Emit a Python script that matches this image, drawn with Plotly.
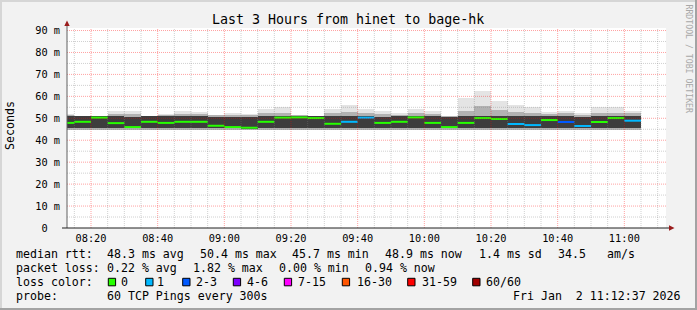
import plotly.graph_objects as go
from datetime import datetime, timedelta

# ------------------------------------------------------------------ data
first_bar_start = "2026-01-02 08:10:00"   # start of the first 5-minute step
step_seconds = 300
view_start = "2026-01-02 08:12:48"
view_end = "2026-01-02 11:12:30"

median_ms = [47.9, 48.4, 50.3, 47.8, 46.0, 48.4, 47.9, 48.4, 48.4, 46.6,
             46.0, 45.7, 48.4, 50.3, 50.4, 50.1, 47.5, 48.4, 50.3, 47.9,
             48.4, 50.4, 47.9, 46.0, 47.9, 50.1, 49.7, 47.4, 46.9, 49.2,
             48.3, 46.5, 48.3, 50.1, 48.9]
loss_pings = [0, 0, 0, 0, 0, 0, 0, 0, 0, 0,
              0, 0, 0, 0, 0, 0, 0, 1, 1, 0,
              0, 0, 0, 0, 0, 0, 0, 1, 1, 0,
              2, 1, 0, 0, 1]
smoke_max = [52.0, 51.2, 51.2, 53.5, 53.5, 51.2, 52.0, 53.5, 53.0, 51.5,
             52.6, 52.0, 54.4, 55.0, 51.5, 51.2, 54.4, 56.2, 54.4, 53.3,
             52.3, 54.1, 53.3, 51.0, 59.4, 62.6, 58.0, 56.1, 55.0, 53.0,
             53.5, 52.6, 55.0, 55.3, 53.5]
smoke_upper = [51.5, 51.1, 51.1, 52.0, 52.0, 51.1, 51.5, 52.0, 51.8, 51.3,
               51.7, 51.5, 52.3, 52.5, 51.3, 51.1, 52.3, 53.0, 52.3, 52.0,
               51.7, 52.2, 52.0, 51.0, 53.5, 55.5, 54.0, 53.0, 52.5, 52.0,
               52.2, 51.7, 52.5, 52.5, 52.2]
smoke_hi = [50.9, 50.9, 50.9, 50.9, 50.8, 50.9, 50.9, 50.9, 50.9, 50.8,
            50.8, 50.8, 50.9, 51.0, 51.0, 50.9, 50.9, 50.9, 50.9, 50.8,
            50.9, 51.0, 50.9, 50.8, 51.0, 51.2, 51.0, 50.9, 50.9, 50.9,
            50.9, 50.8, 50.9, 51.0, 50.9]
smoke_lo = [45.5, 45.5, 45.5, 45.5, 45.4, 45.5, 45.5, 45.5, 45.5, 45.4,
            45.4, 45.3, 45.5, 45.5, 45.5, 45.5, 45.5, 45.5, 45.5, 45.5,
            45.5, 45.5, 45.5, 45.4, 45.5, 45.5, 45.5, 45.5, 45.4, 45.5,
            45.5, 45.4, 45.5, 45.5, 45.5]
smoke_min = [44.7, 44.7, 44.7, 44.7, 44.6, 44.7, 44.7, 44.7, 44.7, 44.6,
             44.6, 44.5, 44.7, 44.7, 44.7, 44.7, 44.7, 44.7, 44.7, 44.7,
             44.7, 44.7, 44.7, 44.6, 44.7, 44.7, 44.7, 44.7, 44.6, 44.7,
             44.7, 44.6, 44.7, 44.7, 44.7]

loss_labels = ["0", "1", "2-3", "4-6", "7-15", "16-30", "31-59", "60/60"]
loss_low = [0, 1, 2, 4, 7, 16, 31, 60]
loss_high = [0, 1, 3, 6, 15, 30, 59, 60]
loss_colors = ["#26ff00", "#00b8ff", "#0059ff", "#7e00ff", "#ff00ff",
               "#ff5500", "#ff0000", "#a10000"]

y_tick_values = [0, 10, 20, 30, 40, 50, 60, 70, 80, 90]
y_tick_labels = ["0\u00a0\u00a0", "10 m", "20 m", "30 m", "40 m", "50 m",
                 "60 m", "70 m", "80 m", "90 m"]

title_text = "Last 3 Hours from hinet to bage-hk"
legend_row1 = ["median rtt:", "48.3 ms avg", "50.4 ms max", "45.7 ms min",
               "48.9 ms now", "1.4 ms sd", "34.5", "am/s"]
legend_row2 = ["packet loss:", "0.22 % avg", "1.82 % max", "0.00 % min",
               "0.94 % now"]
probe_label = "probe:"
probe_text = "60 TCP Pings every 300s"
date_text = "Fri Jan  2 11:12:37 2026"

# ------------------------------------------------------------------ geometry
W, H = 697, 310
PL, PR, PT, PB = 67, 666, 28, 228
FONT = "DejaVu Sans Mono"


def fx(px):
    return (px - PL) / (PR - PL)


def fy(py):
    return (PB - py) / (PB - PT)


t0 = datetime.fromisoformat(first_bar_start)
n = len(median_ms)
starts = [t0 + timedelta(seconds=step_seconds * i) for i in range(n)]
ends = [s + timedelta(seconds=step_seconds) for s in starts]
centers = [s + timedelta(seconds=step_seconds / 2) for s in starts]

fig = go.Figure()


def band(lo, hi, color):
    fig.add_bar(x=centers, y=[h - l for l, h in zip(lo, hi)], base=lo,
                width=step_seconds * 1000,
                marker=dict(color=color, line=dict(width=0)),
                hoverinfo="skip")


band(smoke_min, smoke_max, "#e4e4e4")
band(smoke_min, smoke_upper, "#b2b2b2")
band(smoke_lo, smoke_hi, "#3d3d3d")

for lo, hi, col in zip(loss_low, loss_high, loss_colors):
    xs, ys = [], []
    for i in range(n):
        if lo <= loss_pings[i] <= hi:
            xs += [starts[i], ends[i], None]
            ys += [median_ms[i], median_ms[i], None]
    if xs:
        fig.add_scatter(x=xs, y=ys, mode="lines",
                        line=dict(color=col, width=2), hoverinfo="skip")

shapes = []
# grid lines (drawn over the data, like rrdtool)
vs = datetime.fromisoformat(view_start)
ve = datetime.fromisoformat(view_end)
g = datetime.fromisoformat("2026-01-02 08:15:00")
while g < ve:
    major = (g.minute % 20 == 0)
    shapes.append(dict(type="line", xref="x", yref="paper", x0=g, x1=g,
                       y0=0, y1=1, layer="above",
                       line=dict(color="rgba(255,0,0,0.37)" if major else "rgba(128,128,128,0.37)",
                                 width=1, dash="1px,1px")))
    g += timedelta(minutes=5)
for v in range(5, 95, 5):
    major = (v % 10 == 0)
    shapes.append(dict(type="line", xref="paper", yref="y", x0=0, x1=1,
                       y0=v, y1=v, layer="above",
                       line=dict(color="rgba(255,0,0,0.37)" if major else "rgba(128,128,128,0.37)",
                                 width=1, dash="1px,1px")))

# axes lines and arrows
shapes.append(dict(type="line", xref="paper", yref="paper", x0=fx(67), x1=fx(67),
                   y0=fy(228), y1=fy(24), line=dict(color="#606060", width=1)))
shapes.append(dict(type="line", xref="paper", yref="paper", x0=fx(62), x1=fx(670),
                   y0=fy(228), y1=fy(228), line=dict(color="#202020", width=1)))
shapes.append(dict(type="path", xref="paper", yref="paper",
                   path=f"M {fx(64.3)} {fy(26)} L {fx(69.7)} {fy(26)} L {fx(67)} {fy(20.5)} Z",
                   fillcolor="#9a1c1c", line=dict(width=0)))
shapes.append(dict(type="path", xref="paper", yref="paper",
                   path=f"M {fx(669)} {fy(225.3)} L {fx(669)} {fy(230.7)} L {fx(674.5)} {fy(228)} Z",
                   fillcolor="#9a1c1c", line=dict(width=0)))

# frame
shapes.append(dict(type="rect", xref="paper", yref="paper", x0=fx(0), x1=fx(697),
                   y0=fy(0), y1=fy(2), fillcolor="#d6d6d6", line=dict(width=0)))
shapes.append(dict(type="rect", xref="paper", yref="paper", x0=fx(0), x1=fx(2),
                   y0=fy(0), y1=fy(310), fillcolor="#d6d6d6", line=dict(width=0)))
shapes.append(dict(type="rect", xref="paper", yref="paper", x0=fx(695), x1=fx(697),
                   y0=fy(0), y1=fy(310), fillcolor="#a3a3a3", line=dict(width=0)))
shapes.append(dict(type="rect", xref="paper", yref="paper", x0=fx(0), x1=fx(697),
                   y0=fy(308), y1=fy(310), fillcolor="#a3a3a3", line=dict(width=0)))

annotations = []


def text(s, x, y, size=11.6, anchor="left", color="#000000", angle=0):
    annotations.append(dict(text=s, x=fx(x), y=fy(y), xref="paper", yref="paper",
                            xanchor=anchor, yanchor="middle", showarrow=False,
                            textangle=angle, borderpad=0, borderwidth=0,
                            font=dict(family=FONT, size=size, color=color)))


text(title_text.replace(" ", "\u00a0"), 348, 19.5, size=13.3, anchor="center")
text("Seconds", 10, 126, size=11.6, anchor="center", angle=-90)
text("RRDTOOL\u00a0/\u00a0TOBI\u00a0OETIKER", 688, 58.5, size=8.2, anchor="center",
     color="#a8a8a8", angle=90)

row1_x = [15.5, 106.5, 199.5, 291.8, 385.2, 478.8, 557.8, 607.2]
for s, x in zip(legend_row1, row1_x):
    text(s.replace(" ", "\u00a0"), x, 254)
row2_x = [15.5, 106.5, 192.8, 278.8, 364.5]
for s, x in zip(legend_row2, row2_x):
    text(s.replace(" ", "\u00a0"), x, 268)

text("loss\u00a0color:", 15.5, 282)
box_x = [108.3, 145.7, 182.7, 233.3, 284.3, 342.3, 407.7, 472.7]
lab_x = [120.7, 157.3, 195.7, 246.8, 298.2, 356.5, 421.8, 485.8]
for lab, col, bx, lx in zip(loss_labels, loss_colors, box_x, lab_x):
    shapes.append(dict(type="rect", xref="paper", yref="paper",
                       x0=fx(bx), x1=fx(bx + 7.3), y0=fy(278.3), y1=fy(285.8),
                       fillcolor=col, line=dict(color="#000000", width=1)))
    text(lab, lx, 282)

text(probe_label, 15.5, 296)
text(probe_text.replace(" ", "\u00a0"), 106.5, 296)
text(date_text.replace(" ", "\u00a0"), 681, 296, anchor="right")

fig.update_layout(
    width=W, height=H,
    margin=dict(l=PL, r=W - PR, t=PT, b=H - PB, pad=0),
    paper_bgcolor="#f2f2f2", plot_bgcolor="#ffffff",
    showlegend=False, barmode="overlay", bargap=0,
    font=dict(family=FONT, size=10.3, color="#000000"),
    shapes=shapes, annotations=annotations,
    xaxis=dict(type="date", range=[vs, ve], tickmode="linear",
               tick0="2026-01-02 08:20:00", dtick=20 * 60 * 1000,
               tickformat="%H:%M", showgrid=False, zeroline=False,
               showline=False, ticks="", ticklabelstandoff=3,
               tickfont=dict(family=FONT, size=10.3, color="#000000"),
               fixedrange=True),
    yaxis=dict(range=[0, 91.15], tickmode="array", tickvals=y_tick_values,
               ticktext=y_tick_labels, showgrid=False, zeroline=False,
               showline=False, ticks="", ticklabelstandoff=6,
               tickfont=dict(family=FONT, size=10.3, color="#000000"),
               fixedrange=True),
)

fig.write_html("out.html", config={"displayModeBar": False})
